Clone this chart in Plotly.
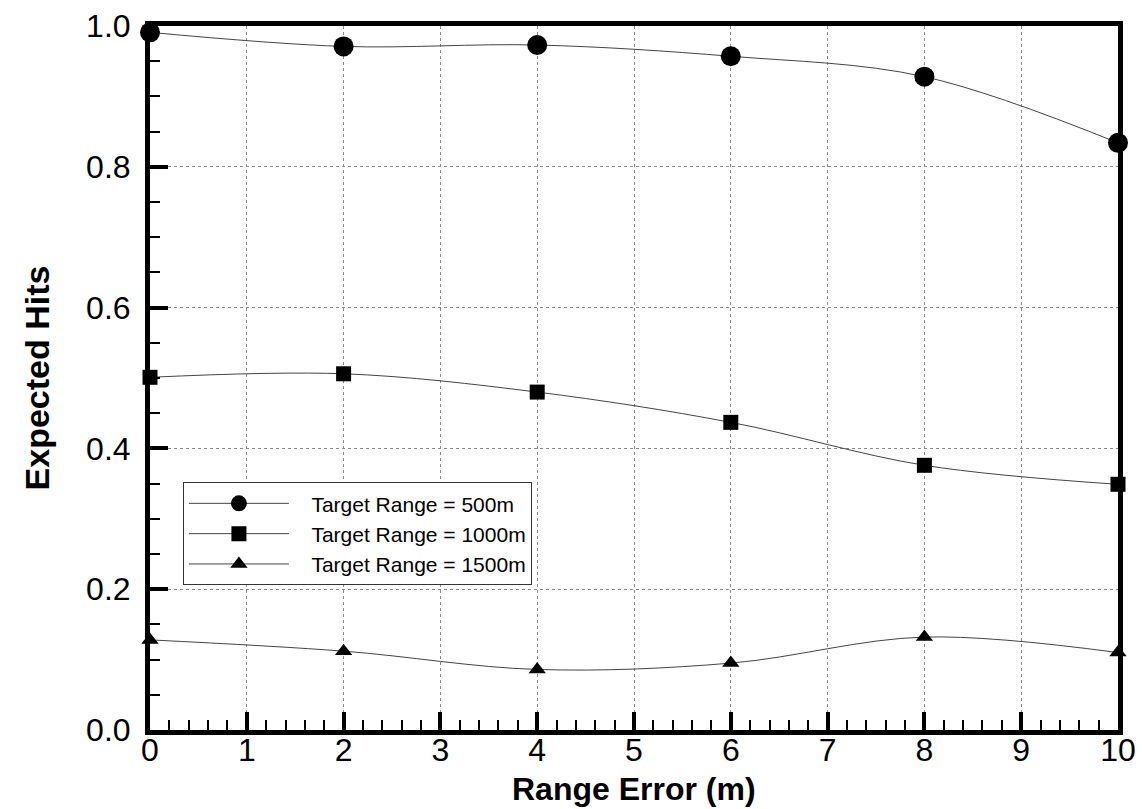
import plotly.graph_objects as go

# Range error (m)
range_error = [0, 2, 4, 6, 8, 10]

# Expected hits for each target range
hits_500 = [0.991, 0.971, 0.973, 0.957, 0.928, 0.834]
hits_1000 = [0.501, 0.506, 0.480, 0.437, 0.376, 0.349]
hits_1500 = [0.128, 0.112, 0.086, 0.095, 0.132, 0.110]

series = [
    ("Target Range = 500m", hits_500, "circle", 20),
    ("Target Range = 1000m", hits_1000, "square", 15),
    ("Target Range = 1500m", hits_1500, "triangle-up", 15),
]

FONT = "Liberation Sans, Arial, sans-serif"
PAD = "\u00a0\u00a0\u00a0"  # gap between legend symbol and label

fig = go.Figure()
for name, vals, sym, size in series:
    fig.add_trace(go.Scatter(
        x=range_error, y=vals, name=PAD + name, mode="lines+markers",
        line=dict(shape="spline", smoothing=1.0, color="#444444", width=1),
        marker=dict(symbol=sym, size=size, color="black"),
        cliponaxis=False,
    ))

axis_common = dict(
    showline=True, linecolor="black", linewidth=5, mirror=True,
    ticks="inside", ticklen=18, tickwidth=4, tickcolor="black",
    showgrid=True, gridcolor="#8a8a8a", gridwidth=1, griddash="dot",
    zeroline=False, automargin=False,
    tickfont=dict(family=FONT, size=32, color="black"),
)

fig.update_xaxes(
    range=[0, 10], tick0=0, dtick=1,
    minor=dict(dtick=0.2, ticks="inside", ticklen=10, tickwidth=1.5,
               tickcolor="black", showgrid=False),
    ticklabelposition="outside", ticklabelstandoff=-12,
    **axis_common,
)
fig.update_yaxes(
    range=[0, 1], tick0=0, dtick=0.2, tickformat=".1f",
    minor=dict(dtick=0.05, ticks="inside", ticklen=10, tickwidth=1.5,
               tickcolor="black", showgrid=False),
    ticklabelstandoff=8,
    title=dict(text="<b>Expected Hits</b>",
               font=dict(family=FONT, size=34, color="black"), standoff=28),
    **axis_common,
)

fig.update_layout(
    width=1142, height=809,
    margin=dict(l=150, r=24, t=26, b=79),
    paper_bgcolor="white", plot_bgcolor="white",
    font=dict(family=FONT, color="black"),
    showlegend=True,
    legend=dict(
        x=0.034, y=0.352, xanchor="left", yanchor="top",
        bgcolor="white", bordercolor="#333333", borderwidth=1,
        font=dict(family=FONT, size=21, color="black"),
        itemwidth=100, tracegroupgap=0,
    ),
    # x-axis title placed just below the tick labels
    annotations=[dict(
        text="<b>Range Error (m)</b>", xref="paper", yref="paper",
        x=0.5, y=0, yshift=-59, xanchor="center", yanchor="middle",
        showarrow=False, borderpad=0,
        font=dict(family=FONT, size=32, color="black"),
    )],
)

fig.write_html("out.html")
